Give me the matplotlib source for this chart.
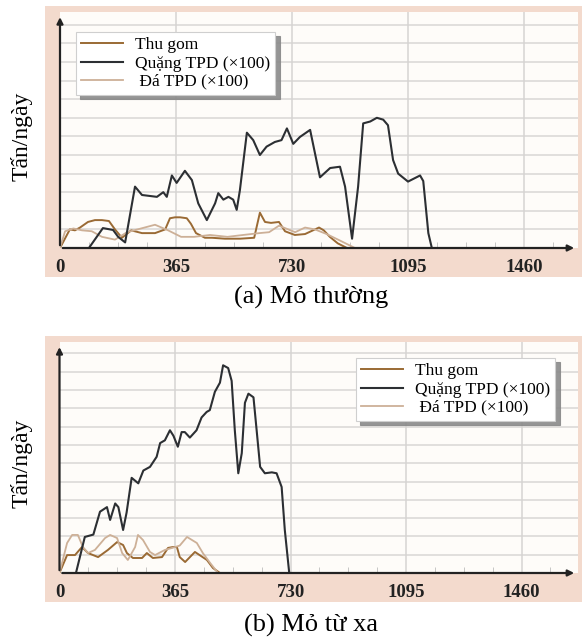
"""
Sản lượng theo ngày: mỏ thường vs mỏ từ xa
"""

import numpy as np
import matplotlib
matplotlib.use('Agg')
import matplotlib.pyplot as plt
from matplotlib.patches import Rectangle

plt.rcParams['font.family'] = ['Liberation Serif', 'DejaVu Serif']

# -------------------------------------------- #
# (a) Mỏ thường
qa_x = [91, 135, 167, 183, 205, 236, 258, 305, 325, 336, 352, 367, 393, 415, 435, 462, 488, 498,
        514, 530, 545, 556, 566, 588, 608, 629, 650, 676, 697, 714, 734, 755, 787, 818, 850, 881,
        897, 919, 938, 954, 976, 997, 1017, 1032, 1048, 1064, 1095, 1133, 1143, 1159, 1170]
qa_y = [0, 1.07, 0.97, 0.6, 0.3, 3.3, 2.85, 2.75, 3.0, 2.75, 3.9, 3.5, 4.15, 3.65, 2.4, 1.5, 2.4, 2.95,
        2.6, 2.75, 2.6, 2.05, 3.1, 6.2, 5.8, 5.0, 5.45, 5.7, 5.8, 6.43, 5.6, 5.97, 6.35, 3.8, 4.3, 4.37,
        3.3, 0.5, 3.3, 6.7, 6.8, 7.0, 6.9, 6.6, 4.73, 4.0, 3.57, 3.9, 3.6, 0.8, 0]
ta_x = [0, 31, 47, 63, 88, 110, 132, 154, 173, 195, 224, 258, 299, 331, 346, 362, 378, 399, 412,
        428, 456, 478, 519, 567, 611, 629, 645, 664, 689, 708, 739, 771, 815, 830, 849, 874, 903]
ta_y = [0, 1.0, 0.95, 1.1, 1.4, 1.5, 1.5, 1.45, 1.0, 0.55, 0.95, 0.8, 0.8, 1.0, 1.6, 1.65, 1.65, 1.6, 1.3,
        0.8, 0.55, 0.55, 0.5, 0.5, 0.55, 1.9, 1.4, 1.35, 1.4, 0.9, 0.7, 0.75, 1.1, 0.95, 0.6, 0.25, 0]
da_x = [0, 16, 42, 69, 100, 132, 173, 211, 255, 277, 299, 340, 381, 422, 472, 527, 576, 627, 658, 689,
        740, 771, 802, 839, 881, 928]
da_y = [0, 0.9, 1.05, 0.95, 0.9, 0.6, 0.45, 0.85, 1.05, 1.15, 1.25, 0.95, 0.6, 0.6, 0.7, 0.6, 0.7, 0.8,
        0.85, 1.2, 0.85, 1.1, 1.0, 0.75, 0.4, 0]

# (b) Mỏ từ xa
qb_x = [52, 80, 107, 128, 150, 160, 176, 186, 201, 212, 228, 249, 265, 286, 307, 318, 333, 349, 360,
        374, 386, 396, 412, 433, 449, 465, 475, 491, 507, 517, 533, 544, 554, 565, 576, 586, 597, 613,
        623, 634, 649, 671, 686, 702, 712, 726]
qb_y = [0, 1.97, 2.1, 3.35, 3.6, 2.9, 3.8, 3.6, 2.35, 3.3, 5.2, 4.9, 5.6, 5.8, 6.35, 7.1, 7.25, 7.8, 7.5,
        6.9, 7.7, 7.7, 7.4, 7.8, 8.5, 8.8, 8.9, 9.9, 10.4, 11.35, 11.2, 10.5, 7.8, 5.45, 6.55, 9.3, 9.8, 9.6,
        7.8, 5.8, 5.45, 5.5, 5.45, 4.7, 2.35, 0]
tb_x = [0, 24, 49, 71, 90, 122, 153, 182, 201, 213, 232, 261, 276, 295, 324, 343, 359, 371, 380, 397,
        428, 466, 485, 507]
tb_y = [0, 0.98, 0.98, 1.42, 1.09, 0.87, 1.26, 1.69, 1.53, 1.09, 0.82, 0.82, 1.09, 0.82, 0.87, 1.37,
        1.42, 1.42, 0.87, 0.6, 1.15, 0.71, 0.27, 0]
db_x = [0, 24, 40, 58, 74, 90, 112, 144, 160, 182, 198, 216, 239, 248, 264, 286, 302, 333, 356, 380,
        403, 434, 453, 476, 501]
db_y = [0, 1.64, 2.08, 2.08, 1.42, 1.09, 1.26, 1.91, 2.08, 1.91, 1.09, 0.71, 1.42, 2.08, 1.8, 1.15, 0.98,
        1.26, 1.37, 1.5, 1.97, 1.64, 1.09, 0.55, 0]

xticks = [0, 365, 730, 1095, 1460]
labels = ['Thu gom', 'Quặng TPD (×100)', ' Đá TPD (×100)']
captions = ['(a) Mỏ thường', '(b) Mỏ từ xa']
# -------------------------------------------- #

W, H = 582, 639
pink = '#f3dacd'
c_thu = '#9a6a34'
c_quang = '#2c2f33'
c_da = '#cdb097'


def fx(px):
    return px / W


def fy(py):
    return 1 - py / H


fig = plt.figure(figsize=(W / 100, H / 100), dpi=100)

# pink frames behind the axes
for top, bot in [(6, 277), (336, 602)]:
    fig.patches.append(Rectangle((fx(45), fy(bot)), fx(582) - fx(45), fy(top) - fy(bot),
                                 transform=fig.transFigure, facecolor=pink, edgecolor='none', zorder=-5))


def panel(l, r, t, b, px365, pxgrid, series, leg_anchor, caption, cap_y):
    ax = fig.add_axes([fx(l), fy(b), fx(r) - fx(l), fy(t) - fy(b)])
    ax.set_zorder(1)
    ax.set_facecolor('#fefcf9')
    ax.set_xlim(0, (r - l) / px365 * 365)
    ax.set_ylim(0, (b - t) / pxgrid)
    for s in ['top', 'right', 'left', 'bottom']:
        ax.spines[s].set_visible(False)
    ax.set_yticks(np.arange(1, 13))
    ax.set_yticklabels([])
    ax.tick_params(axis='y', length=0)
    for yv in range(1, 13):
        ax.axhline(yv, color='#dedcda', lw=1.3, zorder=1)
    for xv in xticks[1:]:
        ax.axvline(xv, color='#d6d4d2', lw=1.1, zorder=1)
    ax.set_xticks(xticks)
    ax.set_xticks(np.arange(91.25, 1640, 91.25), minor=True)
    ax.tick_params(axis='x', which='major', length=0, pad=8, labelsize=13.5, colors='#222222')
    ax.tick_params(axis='x', which='minor', direction='in', length=4, color='#bdbdbd')
    for lab in ax.get_xticklabels():
        lab.set_fontweight('bold')

    # axis arrows
    ax.annotate('', xy=(0, 0.99), xytext=(0, 0), xycoords='axes fraction',
                arrowprops=dict(arrowstyle='-|>', color='#222222', lw=1.6, mutation_scale=9), zorder=5)
    ax.annotate('', xy=(0.998, 0), xytext=(0, 0), xycoords='axes fraction',
                arrowprops=dict(arrowstyle='-|>', color='#222222', lw=1.6, mutation_scale=9), zorder=5)

    (tx, ty), (qx, qy), (dx, dy) = series
    ax.plot(tx, ty, color=c_thu, lw=1.4, label=labels[0], zorder=3)
    ax.plot(qx, qy, color=c_quang, lw=1.5, label=labels[1], zorder=4)
    ax.plot(dx, dy, color=c_da, lw=1.3, label=labels[2], zorder=3)

    leg = ax.legend(loc='upper left', bbox_to_anchor=(fx(leg_anchor[0]), fy(leg_anchor[1])),
                    bbox_transform=fig.transFigure, fontsize=12.5, frameon=True, fancybox=False,
                    shadow={'color': '#8a8a8a', 'alpha': 0.9, 'ox': 3, 'oy': -3},
                    handlelength=2.4, handletextpad=0.7, labelspacing=0.12, borderpad=0.3,
                    borderaxespad=0, edgecolor='#cfcfcf', framealpha=1)
    leg.get_frame().set_linewidth(0.8)

    fig.text(fx(22), fy((t + b) / 2 + 6), 'Tấn/ngày', rotation=90, ha='center', va='center', fontsize=17)
    fig.text(fx(311), fy(cap_y), caption, ha='center', va='center', fontsize=19)
    return ax


panel(60, 578, 12, 248, 116, 18.6, [(ta_x, ta_y), (qa_x, qa_y), (da_x, da_y)], (76, 32), captions[0], 297)
panel(59.5, 578, 342, 573, 115.5, 18.3, [(tb_x, tb_y), (qb_x, qb_y), (db_x, db_y)], (356, 358), captions[1], 625)

plt.savefig('out.png', dpi=100)
